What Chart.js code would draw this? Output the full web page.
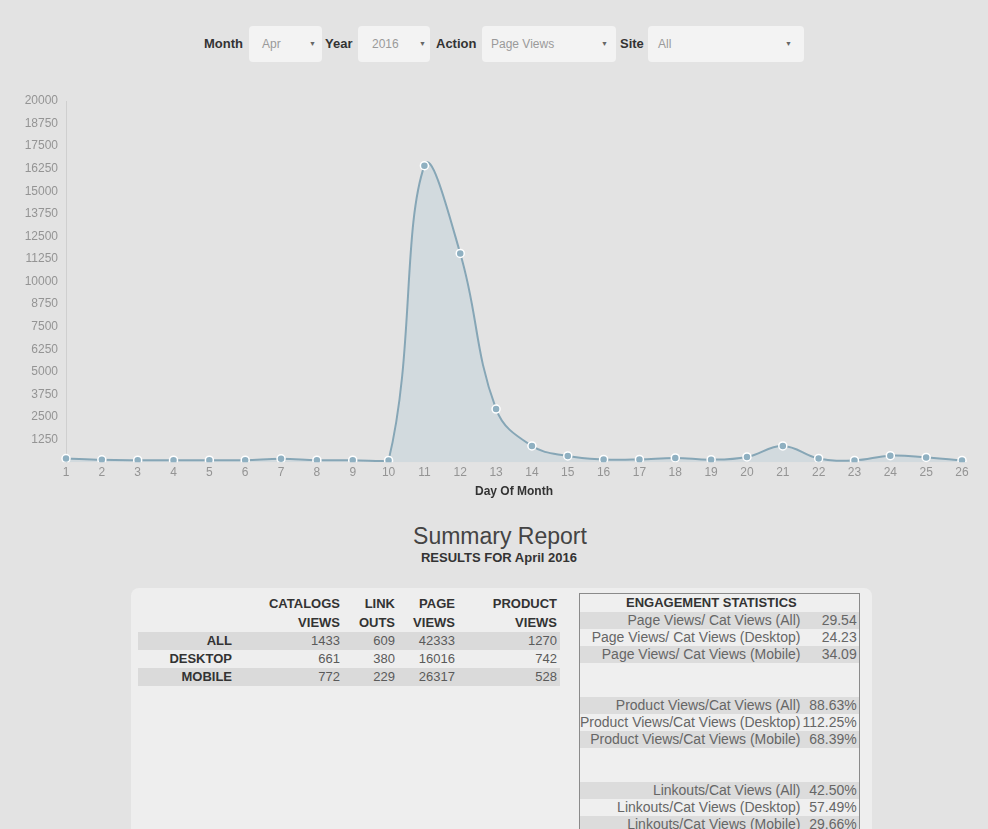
<!DOCTYPE html>
<html>
<head>
<meta charset="utf-8">
<title>Page Views - Summary Report</title>
<script src="https://cdn.jsdelivr.net/npm/chart.js@4.4.1/dist/chart.umd.min.js"></script>
<style>
  html, body {
    margin: 0;
    padding: 0;
    width: 988px;
    height: 829px;
    overflow: hidden;
    background: #e3e3e3;
    font-family: "Liberation Sans", Arial, Helvetica, sans-serif;
  }
  .abs { position: absolute; }
  .lbl { font-weight: bold; font-size: 13px; color: #333; line-height: 36px; top: 26px; }
  .sel {
    top: 26px; height: 36px; background: #f3f3f3; border-radius: 4px;
    font-size: 12px; color: #9a9a9a; line-height: 36px;
  }
  .sel .txt { position: absolute; top: 0; }
  .sel .arr { position: absolute; top: 0; font-size: 7px; color: #666; }
  #chart-wrap { left: 0; top: 0; width: 988px; height: 506px; }
  #titulo { left: 0; width: 1000px; text-align: center; top: 525px; font-size: 23px; line-height: 23px; color: #444; }
  #subtitulo { left: 0; width: 998px; text-align: center; top: 551px; font-size: 13px; line-height: 13px; font-weight: bold; color: #333; }
  #painel { left: 131px; top: 588px; width: 741px; height: 300px; background: #eeeeee; border-radius: 8px; }
  table { border-collapse: collapse; table-layout: fixed; }
  td, th { padding: 0; white-space: nowrap; }
  #tab-resumo { left: 138px; top: 595px; font-size: 13px; }
  #tab-resumo th { font-weight: bold; color: #333; text-align: right; line-height: 18.5px; height: 37px; vertical-align: top; }
  #tab-resumo td { height: 18px; line-height: 18px; text-align: right; color: #5a5a5a; }
  #tab-resumo td.row-name { font-weight: bold; color: #333; }
  #tab-resumo tr.band td { background: #dadada; }
  #tab-eng { left: 579px; top: 593px; border: 1px solid #8a8a8a; font-size: 14px; background: #efefef; }
  #tab-eng th { font-weight: bold; font-size: 13px; color: #333; height: 18px; line-height: 18px; text-align: center; }
  #tab-eng td { height: 17px; line-height: 17px; text-align: right; color: #666; overflow: visible; }
  #tab-eng tr.band td { background: #dcdcdc; }
  #tab-eng tr.gap td { height: 34px; }
</style>
</head>
<body>

<!-- Filtros -->
<div class="abs lbl" style="left:204px">Month</div>
<div class="abs sel" style="left:249px;width:73px"><span class="txt" style="left:13px">Apr</span><span class="arr" style="left:60px">&#9660;</span></div>
<div class="abs lbl" style="left:325px">Year</div>
<div class="abs sel" style="left:358px;width:72px"><span class="txt" style="left:14px">2016</span><span class="arr" style="left:61px">&#9660;</span></div>
<div class="abs lbl" style="left:436px">Action</div>
<div class="abs sel" style="left:482px;width:134px"><span class="txt" style="left:9px">Page Views</span><span class="arr" style="left:119px">&#9660;</span></div>
<div class="abs lbl" style="left:620px">Site</div>
<div class="abs sel" style="left:648px;width:156px"><span class="txt" style="left:10px">All</span><span class="arr" style="left:137px">&#9660;</span></div>

<div id="chart-wrap" class="abs"><canvas id="chart-page-views"></canvas></div>

<div id="titulo" class="abs">Summary Report</div>
<div id="subtitulo" class="abs">RESULTS FOR April 2016</div>

<div id="painel" class="abs"></div>
<table id="tab-resumo" class="abs"></table>
<table id="tab-eng" class="abs"></table>

<script>
// ===============================
// Dados do grafico
// ===============================
const dias = ["1", "2", "3", "4", "5", "6", "7", "8", "9", "10", "11", "12", "13",
  "14", "15", "16", "17", "18", "19", "20", "21", "22", "23", "24", "25", "26"];
const pageViews = [200, 130, 110, 110, 110, 110, 190, 110, 110, 100, 16420, 11560, 2940,
  900, 345, 155, 155, 235, 140, 290, 900, 210, 100, 360, 265, 100];
const yMax = 20000;
const yStep = 1250;

// Tabela resumo
const colunasResumo = [["CATALOGS", "VIEWS"], ["LINK", "OUTS"], ["PAGE", "VIEWS"], ["PRODUCT", "VIEWS"]];
const linhasResumo = ["ALL", "DESKTOP", "MOBILE"];
const catalogViews = [1433, 661, 772];
const linkOuts = [609, 380, 229];
const pageViewsTotal = [42333, 16016, 26317];
const productViews = [1270, 742, 528];

// Engagement statistics (grupos de 3)
const engLabels = [
  ["Page Views/ Cat Views (All)", "Page Views/ Cat Views (Desktop)", "Page Views/ Cat Views (Mobile)"],
  ["Product Views/Cat Views (All)", "Product Views/Cat Views (Desktop)", "Product Views/Cat Views (Mobile)"],
  ["Linkouts/Cat Views (All)", "Linkouts/Cat Views (Desktop)", "Linkouts/Cat Views (Mobile)"]
];
const engValores = [
  ["29.54", "24.23", "34.09"],
  ["88.63%", "112.25%", "68.39%"],
  ["42.50%", "57.49%", "29.66%"]
];

const FONTE = '"Liberation Sans", Arial, Helvetica, sans-serif';

document.addEventListener("DOMContentLoaded", () => {
  desenharGrafico();
  montarTabelaResumo();
  montarTabelaEngajamento();
});

// ===============================
// Grafico
// ===============================
function desenharGrafico() {
  const ctx = document.getElementById("chart-page-views");
  new Chart(ctx, {
    type: "line",
    data: {
      labels: dias,
      datasets: [
        {
          label: "Page Views",
          data: pageViews,
          borderColor: "#86a6b6",
          backgroundColor: "rgba(151,187,205,0.22)",
          borderWidth: 2,
          fill: "origin",
          tension: 0.4,
          pointRadius: 4,
          pointBackgroundColor: "#8fb0c1",
          pointBorderColor: "#ffffff",
          pointBorderWidth: 1.5
        }
      ]
    },
    options: {
      responsive: true,
      maintainAspectRatio: false,
      animation: false,
      layout: { padding: { top: 101, right: 26, bottom: 0, left: 0 } },
      plugins: {
        legend: { display: false },
        tooltip: { enabled: false }
      },
      scales: {
        x: {
          grid: { display: false, drawTicks: false },
          border: { display: false },
          ticks: {
            color: "#949494",
            font: { family: FONTE, size: 12 },
            padding: 3,
            maxRotation: 0,
            autoSkip: false
          },
          title: {
            display: true,
            text: "Day Of Month",
            color: "#333",
            font: { family: FONTE, size: 12, weight: "bold" },
            padding: { top: 2, bottom: 7 }
          }
        },
        y: {
          min: 0,
          max: yMax,
          grid: { display: false, drawTicks: false },
          border: { display: true, color: "#cfcfcf", width: 1 },
          afterFit: scale => { scale.width = 66; },
          ticks: {
            stepSize: yStep,
            color: "#949494",
            font: { family: FONTE, size: 12 },
            padding: 8,
            callback: v => (v === 0 ? "" : v)
          }
        }
      }
    }
  });
}

// ===============================
// Tabelas
// ===============================
function montarTabelaResumo() {
  const tab = document.getElementById("tab-resumo");
  const larguras = [94, 108, 55, 60, 105];
  let html = "<colgroup>" + larguras.map(w => `<col style="width:${w}px">`).join("") + "</colgroup>";
  html += "<tr><th></th>";
  colunasResumo.forEach((c, i) => {
    const pad = i === colunasResumo.length - 1 ? "padding-right:3px" : "";
    html += `<th style="${pad}">${c[0]}<br>${c[1]}</th>`;
  });
  html += "</tr>";
  linhasResumo.forEach((nome, i) => {
    html += `<tr class="${i % 2 === 0 ? "band" : ""}">
      <td class="row-name">${nome}</td>
      <td>${catalogViews[i]}</td>
      <td>${linkOuts[i]}</td>
      <td>${pageViewsTotal[i]}</td>
      <td style="padding-right:3px">${productViews[i]}</td>
    </tr>`;
  });
  tab.innerHTML = html;
}

function montarTabelaEngajamento() {
  const tab = document.getElementById("tab-eng");
  let html = '<colgroup><col style="width:222px"><col style="width:56px"></colgroup>';
  html += '<tr><th colspan="2" style="padding-right:16px">ENGAGEMENT STATISTICS</th></tr>';
  engLabels.forEach((grupo, g) => {
    if (g > 0) html += '<tr class="gap"><td></td><td></td></tr>';
    grupo.forEach((texto, i) => {
      html += `<tr class="${i % 2 === 0 ? "band" : ""}">
        <td style="padding-right:2px">${texto}</td>
        <td style="padding-right:2px">${engValores[g][i]}</td>
      </tr>`;
    });
  });
  tab.innerHTML = html;
}
</script>
</body>
</html>
